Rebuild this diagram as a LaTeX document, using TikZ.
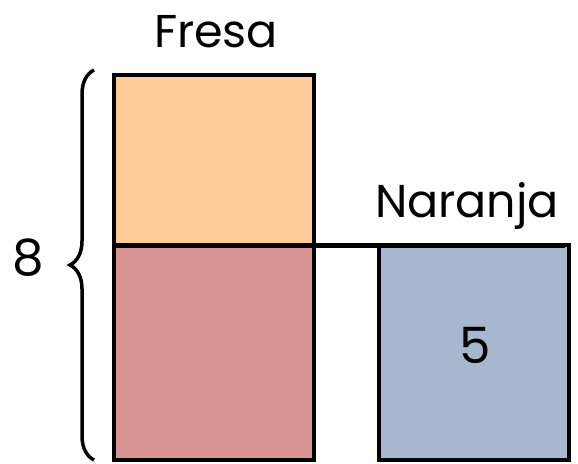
\documentclass[tikz,border=0pt]{standalone}
\usepackage{fontspec}
\setmainfont{Poppins}
\usetikzlibrary{positioning,decorations.pathreplacing}
\definecolor{peach}{HTML}{FFCC99}
\definecolor{rose}{HTML}{D99594}
\definecolor{slate}{HTML}{A7B7CE}

\begin{document}
\begin{tikzpicture}[
    x=1pt, y=-1pt,
    bar/.style={draw, line width=3.2pt, inner sep=0pt, outer sep=0pt, minimum width=200pt},
    lbl/.style={font=\fontsize{46}{50}\selectfont, anchor=base},
    num/.style={font=\fontsize{50}{56}\selectfont}
]
\useasboundingbox (0,0) rectangle (578,463);

\node[bar, fill=peach, minimum height=170pt] (top) at (214,160) {};
\node[bar, fill=rose, minimum height=215pt, below=0pt of top] (bot) {};
\node[bar, fill=slate, minimum width=190pt, minimum height=215pt] (right) at (474,352.5) {};
\node[num] (five) at (475,345) {5};

\draw[line width=5pt] (top.south west) -- ([xshift=-4pt]right.north east);

\coordinate (bt) at (94,460);
\coordinate (tp) at (94,70);
\draw[decorate, decoration={brace, amplitude=24pt}, line width=3.5pt] (bt) -- (tp);
\node[num] (eight) at (28,258) {8};

\node[lbl] (fresa) at (216,47) {Fresa};
\node[lbl] (naranja) at (467,217) {Naranja};
\end{tikzpicture}
\end{document}
